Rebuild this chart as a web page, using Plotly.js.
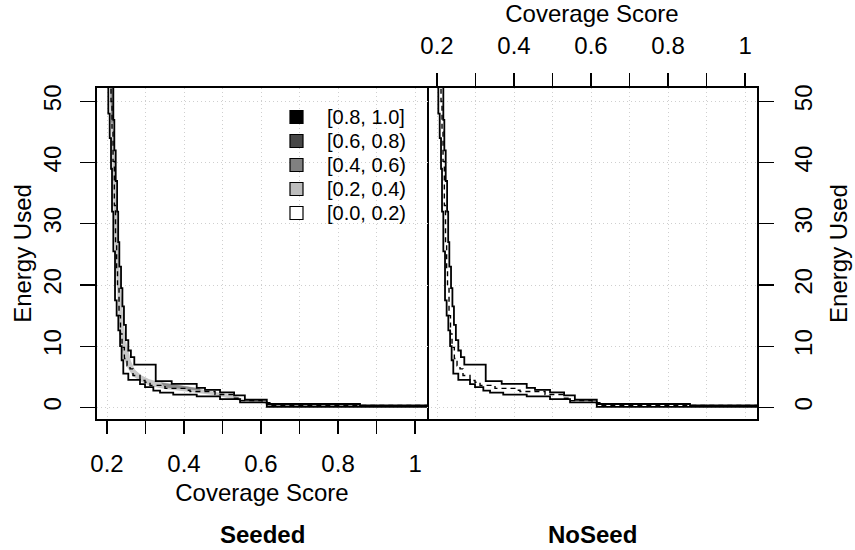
<!DOCTYPE html>
<html>
<head>
<meta charset="utf-8">
<script src="https://cdn.plot.ly/plotly-3.0.1.min.js"></script>
<style>
  html, body { margin: 0; padding: 0; background: #ffffff; }
  #chart { width: 855px; height: 550px; }
</style>
</head>
<body>
<div id="chart"></div>
<script>
// Attainment surfaces (step corners: at x the surface drops to y, then runs right)
const bestX   = [0.2034, 0.2034, 0.2070, 0.2104, 0.2130, 0.2164, 0.2208, 0.2250, 0.2294, 0.2340, 0.2380, 0.2423, 0.2553, 0.2857, 0.2987, 0.3203, 0.3377, 0.3720, 0.4330, 0.4935, 0.5455, 0.6150, 1.0500];
const bestY   = [55, 48, 44, 39, 32, 25.5, 17.5, 15, 12.6, 10, 7.7, 5.5, 4.5, 3.8, 3.3, 2.75, 2.4, 2.1, 1.8, 1.35, 0.82, 0.08, 0.08];

const medianX = [0.2104, 0.2104, 0.2130, 0.2156, 0.2190, 0.2221, 0.2250, 0.2273, 0.2312, 0.2350, 0.2390, 0.2450, 0.2520, 0.2597, 0.2675, 0.2857, 0.2987, 0.3117, 0.3506, 0.4070, 0.4156, 0.4805, 0.5270, 0.5455, 0.6026, 0.6230, 1.0500];
const medianY = [55, 50, 45, 40.2, 33, 26.5, 22.5, 19.9, 15, 12, 9.8, 8, 6.8, 6.3, 5.2, 4.4, 4.1, 3.6, 3.1, 2.8, 2.6, 2.1, 1.5, 1.1, 0.77, 0.3, 0.3];

const worstX  = [0.2164, 0.2164, 0.2190, 0.2226, 0.2262, 0.2290, 0.2320, 0.2364, 0.2400, 0.2440, 0.2490, 0.2553, 0.2620, 0.2709, 0.3265, 0.3680, 0.4330, 0.4545, 0.4935, 0.5300, 0.5580, 0.6150, 0.8570, 1.0500];
const worstY  = [55, 47, 42, 37, 32, 27, 23, 19.5, 16.5, 13.5, 11, 9.3, 8.2, 7.0, 4.3, 3.85, 3.2, 2.85, 2.45, 1.95, 1.25, 0.55, 0.33, 0.33];

// Regions where Seeded attains more often than NoSeed, by difference level
const diffLightX = [0.2130, 0.2164, 0.2190, 0.2226, 0.2262, 0.2290, 0.2320, 0.2364, 0.2400, 0.2440, 0.2490, 0.2553, 0.2620, 0.2720, 0.2900, 0.3100, 0.3265, 0.3680, 0.4330, 0.4545, 0.4935, 0.5300, 0.5580, 0.6000, 0.6150,
                    0.6000, 0.5455, 0.4805, 0.4156, 0.3506, 0.3117, 0.2857, 0.2675, 0.2520, 0.2450, 0.2380, 0.2300, 0.2235, 0.2170, 0.2110, 0.2080];
const diffLightY = [52.5, 47, 42, 37, 32, 27, 23, 19.5, 16.5, 13.5, 11, 9.3, 7.6, 6.2, 5.2, 4.6, 4.3, 3.85, 3.2, 2.85, 2.45, 1.95, 1.25, 1.0, 0.6,
                    0.75, 1.1, 2.0, 2.5, 3.0, 3.5, 4.3, 5.1, 6.6, 7.9, 9.6, 14.8, 22.3, 32.8, 44.8, 52.5];

const diffMidX  = [0.2085, 0.2160, 0.2172, 0.2105, NaN, 0.3400, 0.4000, 0.4400, 0.4450, 0.4000, 0.3500, NaN, 0.6150, 0.8570, 0.8570, 0.6150];
const diffMidY  = [52.5, 52.5, 46.5, 46.5, NaN, 4.05, 3.55, 3.1, 2.75, 2.95, 3.25, NaN, 0.50, 0.50, 0.12, 0.12];

const diffDarkX = [0.8570, 1.0500, 1.0500, 0.8570];
const diffDarkY = [0.30, 0.30, 0.09, 0.09];

// Axis ticks, legend levels, panel strips
const xTickVals  = [0.2, 0.3, 0.4, 0.5, 0.6, 0.7, 0.8, 0.9, 1.0];
const xTickText  = ['0.2', '', '0.4', '', '0.6', '', '0.8', '', '1'];
const yTickVals  = [0, 10, 20, 30, 40, 50];
const levelNames  = ['[0.8, 1.0]', '[0.6, 0.8)', '[0.4, 0.6)', '[0.2, 0.4)', '[0.0, 0.2)'];
const levelColors = ['#000000', '#474747', '#808080', '#bdbdbd', '#ffffff'];
const panelNames  = ['Seeded', 'NoSeed'];

function fillTrace(xs, ys, color, xa, ya) {
  return { x: xs, y: ys, xaxis: xa, yaxis: ya, type: 'scatter', mode: 'lines',
           fill: 'toself', fillcolor: color, line: { width: 0, color: color },
           connectgaps: false, showlegend: false, hoverinfo: 'skip' };
}
function stepTrace(xs, ys, xa, ya, dash, w) {
  return { x: xs, y: ys, xaxis: xa, yaxis: ya, type: 'scatter', mode: 'lines',
           line: { shape: 'hv', color: '#000000', width: w, dash: dash },
           showlegend: false, hoverinfo: 'skip' };
}

const traces = [];
// Left panel shading
traces.push(fillTrace(diffLightX, diffLightY, '#c8c8c8', 'x', 'y'));
traces.push(fillTrace(diffMidX, diffMidY, '#8c8c8c', 'x', 'y'));
traces.push(fillTrace(diffDarkX, diffDarkY, '#4a4a4a', 'x', 'y'));
// Surfaces on both panels
[['x', 'y'], ['x2', 'y2']].forEach(([xa, ya]) => {
  traces.push(stepTrace(worstX, worstY, xa, ya, 'solid', 1.8));
  traces.push(stepTrace(bestX, bestY, xa, ya, 'solid', 1.8));
  traces.push(stepTrace(medianX, medianY, xa, ya, '5px,4px', 1.4));
});

// Legend key: plot-area pixel geometry converted to paper fractions
const plotL = 97, plotT = 88, plotW = 660, plotH = 331;
const px = v => (v - plotL) / plotW;
const py = v => 1 - (v - plotT) / plotH;
const keyTop = 117, keyStep = 24, keyBox = 13, keyBoxX = 290, keyTextX = 325;

const shapes = levelNames.map((name, i) => {
  const cy = keyTop + i * keyStep;
  return { type: 'rect', xref: 'paper', yref: 'paper',
           x0: px(keyBoxX), x1: px(keyBoxX + keyBox),
           y0: py(cy - keyBox / 2), y1: py(cy + keyBox / 2),
           fillcolor: levelColors[i], line: { color: '#000000', width: 1.2 }, layer: 'above' };
});

const annotations = levelNames.map((name, i) => ({
  text: name, xref: 'paper', yref: 'paper',
  x: px(keyTextX), y: py(keyTop + i * keyStep), xanchor: 'left', yanchor: 'middle',
  showarrow: false, font: { size: 20, color: '#000000' }
})).concat(panelNames.map((name, i) => ({
  text: '<b>' + name + '</b>', xref: 'paper', yref: 'paper',
  x: i === 0 ? 0.25 : 0.75, y: py(534), xanchor: 'center', yanchor: 'middle',
  showarrow: false, font: { size: 24, color: '#000000' }
})));

const axisCommon = {
  ticks: 'outside', ticklen: 13, tickwidth: 1.3, tickcolor: '#000000',
  showline: true, linecolor: '#000000', linewidth: 1.6,
  showgrid: true, gridcolor: '#cfcfcf', griddash: '1px,3px', gridwidth: 1,
  zeroline: false, tickfont: { size: 24, color: '#000000' }, ticklabelstandoff: 10
};

const layout = {
  width: 855, height: 550,
  margin: { l: 97, r: 98, t: 88, b: 131, pad: 0 },
  paper_bgcolor: '#ffffff', plot_bgcolor: '#ffffff',
  font: { family: 'Liberation Sans, Arial, sans-serif', size: 24, color: '#000000' },
  showlegend: false,
  xaxis: Object.assign({}, axisCommon, {
    domain: [0, 0.5], range: [0.174, 1.031], anchor: 'y', side: 'bottom', mirror: true,
    tickmode: 'array', tickvals: xTickVals, ticktext: xTickText,
    title: { text: 'Coverage Score', font: { size: 24 }, standoff: 8 }
  }),
  yaxis: Object.assign({}, axisCommon, {
    domain: [0, 1], range: [-1.9, 52.2], anchor: 'x', side: 'left', mirror: true,
    tickmode: 'array', tickvals: yTickVals, tickangle: -90, ticklen: 15,
    title: { text: 'Energy Used', font: { size: 24 }, standoff: 0 }
  }),
  xaxis2: Object.assign({}, axisCommon, {
    domain: [0.5, 1], range: [0.174, 1.031], anchor: 'y2', side: 'top', mirror: true,
    tickmode: 'array', tickvals: xTickVals, ticktext: xTickText,
    title: { text: 'Coverage Score', font: { size: 24 }, standoff: 3 }
  }),
  yaxis2: Object.assign({}, axisCommon, {
    domain: [0, 1], range: [-1.9, 52.2], anchor: 'x2', side: 'right', mirror: false,
    tickmode: 'array', tickvals: yTickVals, tickangle: -90, ticklen: 15,
    title: { text: 'Energy Used', font: { size: 24 }, standoff: 14 }
  }),
  shapes: shapes,
  annotations: annotations
};

Plotly.newPlot('chart', traces, layout, { staticPlot: true, displayModeBar: false });
</script>
</body>
</html>
